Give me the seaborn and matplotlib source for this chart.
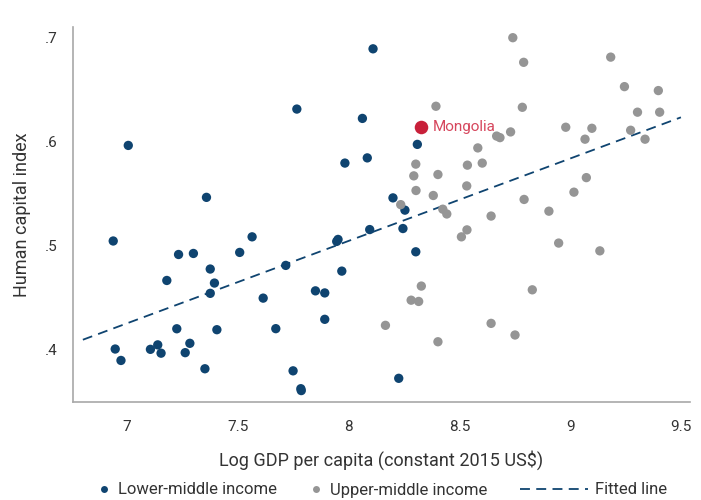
import numpy as np
import pandas as pd
import matplotlib
matplotlib.use("Agg")
import matplotlib.pyplot as plt
from matplotlib.lines import Line2D
import seaborn as sns

# ==========================================
# Data
# ==========================================
lower_x = [6.937, 7.005, 6.946, 6.972, 7.232, 7.299, 7.375, 7.394, 7.375, 7.179,
           7.508, 7.564, 7.614, 7.224, 7.405, 7.105, 7.138, 7.153, 7.262, 7.283,
           7.351, 7.358, 8.110, 7.766, 8.062, 8.310, 7.983, 8.084, 8.200, 8.254,
           8.095, 8.245, 7.952, 7.946, 7.716, 7.969, 8.303, 7.850, 7.892, 7.892,
           7.671, 7.749, 7.784, 7.786, 8.226]
lower_y = [0.504, 0.596, 0.400, 0.389, 0.491, 0.492, 0.477, 0.4635, 0.4536, 0.466,
           0.493, 0.508, 0.449, 0.4195, 0.4186, 0.3997, 0.404, 0.396, 0.3965, 0.4055,
           0.381, 0.546, 0.689, 0.631, 0.622, 0.597, 0.579, 0.584, 0.5455, 0.5337,
           0.515, 0.516, 0.5055, 0.5036, 0.4805, 0.475, 0.4936, 0.456, 0.454, 0.4286,
           0.4196, 0.379, 0.3618, 0.360, 0.3718]

upper_x = [8.394, 8.303, 8.294, 8.403, 8.304, 8.382, 8.235, 8.425, 8.443, 8.509,
           8.328, 8.282, 8.316, 8.166, 8.403, 8.741, 8.790, 8.784, 9.183, 9.245,
           9.398, 9.304, 9.404, 8.980, 9.098, 9.273, 9.338, 9.067, 8.668, 8.683,
           8.731, 8.583, 8.536, 8.603, 8.533, 9.073, 9.017, 8.792, 8.904, 8.643,
           8.534, 8.948, 9.134, 8.829, 8.643, 8.751]
upper_y = [0.6337, 0.578, 0.5667, 0.568, 0.5526, 0.5478, 0.539, 0.5346, 0.530, 0.508,
           0.4606, 0.447, 0.4458, 0.4228, 0.407, 0.6997, 0.676, 0.6327, 0.681, 0.6526,
           0.6488, 0.628, 0.628, 0.6135, 0.6125, 0.6106, 0.602, 0.602, 0.605, 0.6035,
           0.609, 0.5936, 0.577, 0.579, 0.557, 0.565, 0.551, 0.544, 0.5327, 0.528,
           0.5147, 0.502, 0.4945, 0.457, 0.4247, 0.4135]

mongolia_x = 8.328
mongolia_y = 0.614

fit_range = [6.8, 9.5]

x_ticks = [7, 7.5, 8, 8.5, 9, 9.5]
x_tick_labels = ["7", "7.5", "8", "8.5", "9", "9.5"]
y_ticks = [0.4, 0.5, 0.6, 0.7]
y_tick_labels = [".4", ".5", ".6", ".7"]

legend_labels = ["Lower-middle income", "Upper-middle income", "Fitted line"]

# ==========================================
# Style
# ==========================================
DARK_BLUE = "#0f4470"
GRAY = "#959595"
RED = "#c8203a"
AXIS_GRAY = "#a8a8a8"
TEXT = "#333333"

sns.set_theme(style="white")
plt.rcParams.update({
    "font.family": ["Roboto", "DejaVu Sans"],
    "font.weight": "normal",
    "axes.labelweight": "normal",
    "text.color": TEXT,
    "axes.labelcolor": TEXT,
    "xtick.color": TEXT,
    "ytick.color": TEXT,
})

df = pd.DataFrame({
    "gdp": lower_x + upper_x,
    "hci": lower_y + upper_y,
    "group": ["Lower-middle income"] * len(lower_x) + ["Upper-middle income"] * len(upper_x),
})

# fitted line on all countries (incl. Mongolia)
all_x = np.array(lower_x + upper_x + [mongolia_x])
all_y = np.array(lower_y + upper_y + [mongolia_y])
slope, intercept = np.polyfit(all_x, all_y, 1)
fit_x = np.array(fit_range)
fit_y = intercept + slope * fit_x

fig = plt.figure(figsize=(7.01, 5.0), dpi=100)
ax = fig.add_axes([0.104, 0.196, 0.880, 0.750])

sns.scatterplot(data=df, x="gdp", y="hci", hue="group",
                palette={"Lower-middle income": DARK_BLUE, "Upper-middle income": GRAY},
                s=45, linewidth=0, legend=False, ax=ax, zorder=3)
ax.plot(fit_x, fit_y, color=DARK_BLUE, lw=1.3, dashes=(5.5, 3.5), zorder=2)
ax.scatter([mongolia_x], [mongolia_y], s=95, color=RED, linewidth=0, zorder=4)
ax.annotate("Mongolia", (mongolia_x, mongolia_y), xytext=(8, 0), textcoords="offset points",
            va="center", ha="left", color="#d6475d", fontsize=11)

ax.set_xlim(6.755, 9.54)
ax.set_ylim(0.349, 0.71)
ax.set_xticks(x_ticks)
ax.set_xticklabels(x_tick_labels)
ax.set_yticks(y_ticks)
ax.set_yticklabels(y_tick_labels)
ax.tick_params(axis="both", length=5, width=1, color=AXIS_GRAY, labelsize=11, direction="out")
ax.tick_params(axis="x", pad=8)
ax.tick_params(axis="y", pad=6)

sns.despine(ax=ax)
for side in ["left", "bottom"]:
    ax.spines[side].set_color(AXIS_GRAY)
    ax.spines[side].set_linewidth(1.2)

ax.set_xlabel("Log GDP per capita (constant 2015 US$)", fontsize=13, labelpad=12)
ax.set_ylabel("Human capital index", fontsize=13, labelpad=10)

# --- legend: one small legend per entry so the spacing matches ---
handles = [
    Line2D([], [], marker="o", ls="", color=DARK_BLUE, markersize=5, markeredgewidth=0),
    Line2D([], [], marker="o", ls="", color=GRAY, markersize=5, markeredgewidth=0),
    Line2D([], [], color=DARK_BLUE, lw=1.3, dashes=(5.5, 3.5)),
]
legend_starts = [96 / 701, 308 / 701, 520 / 701]
handle_lengths = [1.0, 1.0, 4.1]
text_pads = [0.32, 0.32, 0.42]
for h, lab, x0, hl, tp in zip(handles, legend_labels, legend_starts, handle_lengths, text_pads):
    fig.legend([h], [lab], loc="center left", bbox_to_anchor=(x0, 0.02),
               frameon=False, fontsize=12, handlelength=hl, handletextpad=tp,
               borderpad=0, borderaxespad=0)

fig.savefig("out.png", dpi=100)
